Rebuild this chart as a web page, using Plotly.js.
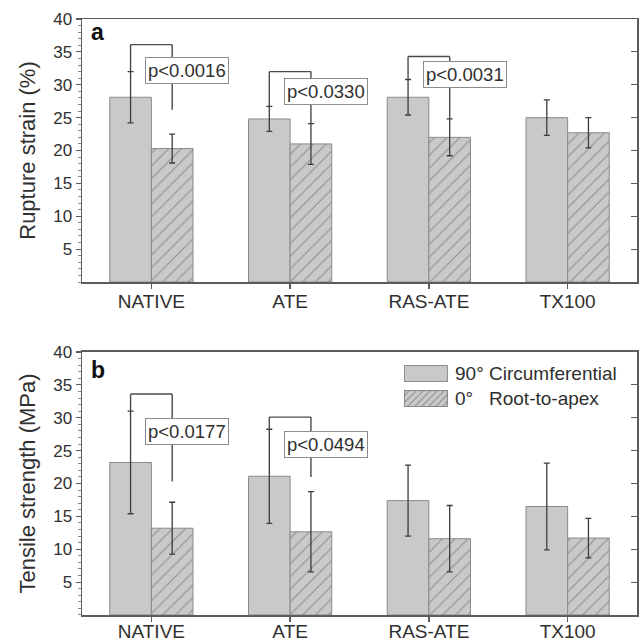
<!DOCTYPE html>
<html>
<head>
<meta charset="utf-8">
<script src="https://cdn.plot.ly/plotly-3.0.1.min.js"></script>
<style>html,body{margin:0;padding:0;background:#fff;}#chart{width:644px;height:642px;}</style>
</head>
<body>
<div id="chart"></div>
<script>
// ---- data ----
const categories = ['NATIVE', 'ATE', 'RAS-ATE', 'TX100'];
const seriesNames = ['90° Circumferential', '0°\u00a0\u00a0\u00a0Root-to-apex'];
const yTickVals = [5, 10, 15, 20, 25, 30, 35, 40];

// panel a: rupture strain (%)
const strainCirc = [28.1, 24.8, 28.1, 25.0];
const strainCircErr = [3.9, 1.9, 2.7, 2.7];
const strainRoot = [20.3, 21.0, 22.0, 22.7];
const strainRootErr = [2.2, 3.1, 2.8, 2.3];

// panel b: tensile strength (MPa)
const tensileCirc = [23.2, 21.1, 17.4, 16.5];
const tensileCircErr = [7.8, 7.15, 5.4, 6.6];
const tensileRoot = [13.2, 12.65, 11.6, 11.7];
const tensileRootErr = [3.95, 6.1, 5.05, 3.0];

// significance comparisons
const strainPLabels = ['p<0.0016', 'p<0.0330', 'p<0.0031'];
const strainPGroups = [0, 1, 2];
const strainBracketTop = [36.1, 32.0, 34.3];
const strainBracketEnd = [26.2, 24.2, 24.8];
const strainBoxY = [32.1, 28.9, 31.6];

const tensilePLabels = ['p<0.0177', 'p<0.0494'];
const tensilePGroups = [0, 1];
const tensileBracketTop = [33.6, 30.1];
const tensileBracketEnd = [20.3, 21.0];
const tensileBoxY = [27.9, 26.0];

// ---- styles ----
const fillGray = '#c9c9c9';
const edgeGray = '#8a8a8a';
const hatchGray = '#8f8f8f';
const axisGray = '#5c5c5c';
const textGray = '#2f2f2f';
const FONT = 'Liberation Sans, Arial, sans-serif';

function barTrace(y, err, idx, xa, ya) {
  const t = {
    type: 'bar', x: categories, y: y, name: seriesNames[idx],
    xaxis: xa, yaxis: ya, showlegend: false,
    marker: { color: fillGray, line: { color: edgeGray, width: 1 } },
    error_y: { type: 'data', array: err, visible: true, color: '#3c3c3c', thickness: 1.3, width: 3 },
    hoverinfo: 'skip'
  };
  if (idx === 1) {
    t.marker.pattern = { shape: '/', fgcolor: hatchGray, bgcolor: fillGray, size: 9, solidity: 0.12 };
  }
  return t;
}

const data = [
  barTrace(strainCirc, strainCircErr, 0, 'x', 'y'),
  barTrace(strainRoot, strainRootErr, 1, 'x', 'y'),
  barTrace(tensileCirc, tensileCircErr, 0, 'x2', 'y2'),
  barTrace(tensileRoot, tensileRootErr, 1, 'x2', 'y2'),
  { type: 'scatter', x: [], y: [], xaxis: 'x', yaxis: 'y3', showlegend: false },
  { type: 'scatter', x: [], y: [], xaxis: 'x2', yaxis: 'y4', showlegend: false }
];

const shapes = [];
const annotations = [];
const images = [];
const half = 0.15;

function addComparisons(labels, groups, tops, ends, boxYs, circ, circErr, xr, yr) {
  labels.forEach((lab, k) => {
    const g = groups[k];
    const xl = g - half, xrgt = g + half;
    const line = { color: '#4a4a4a', width: 1.4 };
    const leftEnd = circ[g] + circErr[g];
    shapes.push({ type: 'line', xref: xr, yref: yr, x0: xl, x1: xl, y0: tops[k], y1: leftEnd, line: line, layer: 'above' });
    shapes.push({ type: 'line', xref: xr, yref: yr, x0: xl, x1: xrgt, y0: tops[k], y1: tops[k], line: line, layer: 'above' });
    shapes.push({ type: 'line', xref: xr, yref: yr, x0: xrgt, x1: xrgt, y0: tops[k], y1: ends[k], line: line, layer: 'above' });
    annotations.push({
      xref: xr, yref: yr, x: g - 0.045, y: boxYs[k], xanchor: 'left', yanchor: 'middle',
      text: lab, showarrow: false, bgcolor: '#ffffff', bordercolor: '#8c8c8c', borderwidth: 1, borderpad: 2,
      font: { family: FONT, size: 18.5, color: textGray }
    });
  });
}
addComparisons(strainPLabels, strainPGroups, strainBracketTop, strainBracketEnd, strainBoxY, strainCirc, strainCircErr, 'x', 'y');
addComparisons(tensilePLabels, tensilePGroups, tensileBracketTop, tensileBracketEnd, tensileBoxY, tensileCirc, tensileCircErr, 'x2', 'y2');

annotations.push({ xref: 'x domain', yref: 'y domain', x: 0.013, y: 0.951, xanchor: 'left', yanchor: 'middle', text: '<b>a</b>', showarrow: false, font: { family: FONT, size: 23, color: '#111' } });
annotations.push({ xref: 'x2 domain', yref: 'y2 domain', x: 0.013, y: 0.932, xanchor: 'left', yanchor: 'middle', text: '<b>b</b>', showarrow: false, font: { family: FONT, size: 23, color: '#111' } });

// ---- legend (drawn in panel b, large swatches like the reference) ----
function swatchSVG(hatched) {
  const w = 44, h = 17;
  let s = "<svg xmlns='http://www.w3.org/2000/svg' width='" + w + "' height='" + h + "'>";
  s += "<rect x='0.5' y='0.5' width='" + (w - 1) + "' height='" + (h - 1) + "' fill='" + fillGray + "' stroke='" + edgeGray + "' stroke-width='1'/>";
  if (hatched) {
    for (let i = -h; i < w; i += 7) {
      s += "<line x1='" + i + "' y1='" + (h - 1) + "' x2='" + (i + h - 2) + "' y2='1' stroke='" + hatchGray + "' stroke-width='1'/>";
    }
    s += "<rect x='0.5' y='0.5' width='" + (w - 1) + "' height='" + (h - 1) + "' fill='none' stroke='" + edgeGray + "' stroke-width='1'/>";
  }
  s += "</svg>";
  return 'data:image/svg+xml;charset=utf-8,' + encodeURIComponent(s);
}
const legX0 = 0.580, legW = 0.0793, legH = 0.0646, legTextX = 0.668;
const legRows = [0.918, 0.823]; // y-domain centres of the two entries
seriesNames.forEach((nm, i) => {
  images.push({
    source: swatchSVG(i === 1), xref: 'x2 domain', yref: 'y2 domain',
    x: legX0, y: legRows[i], sizex: legW, sizey: legH,
    xanchor: 'left', yanchor: 'middle', sizing: 'stretch', layer: 'above'
  });
  annotations.push({
    xref: 'x2 domain', yref: 'y2 domain', x: legTextX, y: legRows[i], xanchor: 'left', yanchor: 'middle',
    text: nm, showarrow: false, font: { family: FONT, size: 19, color: textGray }
  });
});

function xAxis(anchor, standoff) {
  return {
    type: 'category', categoryorder: 'array', categoryarray: categories, anchor: anchor,
    range: [-0.5, 3.5], showline: true, linecolor: axisGray, linewidth: 1.5, mirror: true,
    ticks: 'outside', ticklen: 5, tickcolor: axisGray, tickwidth: 1.3, ticklabelstandoff: standoff,
    tickfont: { family: FONT, size: 19, color: textGray }, showgrid: false, zeroline: false, fixedrange: true
  };
}
function yAxis(anchor, domain, title) {
  return {
    anchor: anchor, domain: domain, range: [0, 40], tickvals: yTickVals, ticktext: yTickVals.map(String),
    showline: true, linecolor: axisGray, linewidth: 1.5, mirror: true,
    ticks: 'outside', ticklen: 5, tickcolor: axisGray, tickwidth: 1.2,
    minor: { dtick: 1, tick0: 0, ticks: 'outside', ticklen: 3, tickcolor: '#8a8a8a', tickwidth: 1 },
    tickfont: { family: FONT, size: 17, color: textGray },
    title: { text: title, font: { family: FONT, size: 22, color: textGray }, standoff: 11 },
    showgrid: false, zeroline: false, fixedrange: true
  };
}
function yRight(over) {
  return {
    overlaying: over, side: 'right', anchor: over === 'y' ? 'x' : 'x2', range: [0, 40], tickvals: yTickVals,
    showticklabels: false, ticks: 'inside', ticklen: 6, tickcolor: axisGray, tickwidth: 1.2,
    showline: false, showgrid: false, zeroline: false, fixedrange: true
  };
}

const layout = {
  width: 644, height: 642,
  margin: { l: 82, r: 7, t: 19, b: 27 },
  paper_bgcolor: '#ffffff', plot_bgcolor: '#ffffff',
  barmode: 'group', bargap: 0.4, bargroupgap: 0,
  font: { family: FONT, color: textGray },
  xaxis: xAxis('y', -3),
  xaxis2: xAxis('y2', -6),
  yaxis: yAxis('x', [0.5587, 1], 'Rupture strain (%)'),
  yaxis2: yAxis('x2', [0, 0.4413], 'Tensile strength (MPa)'),
  yaxis3: yRight('y'),
  yaxis4: yRight('y2'),
  showlegend: false,
  shapes: shapes,
  annotations: annotations,
  images: images
};

Plotly.newPlot('chart', data, layout, { staticPlot: true, displayModeBar: false });
</script>
</body>
</html>
